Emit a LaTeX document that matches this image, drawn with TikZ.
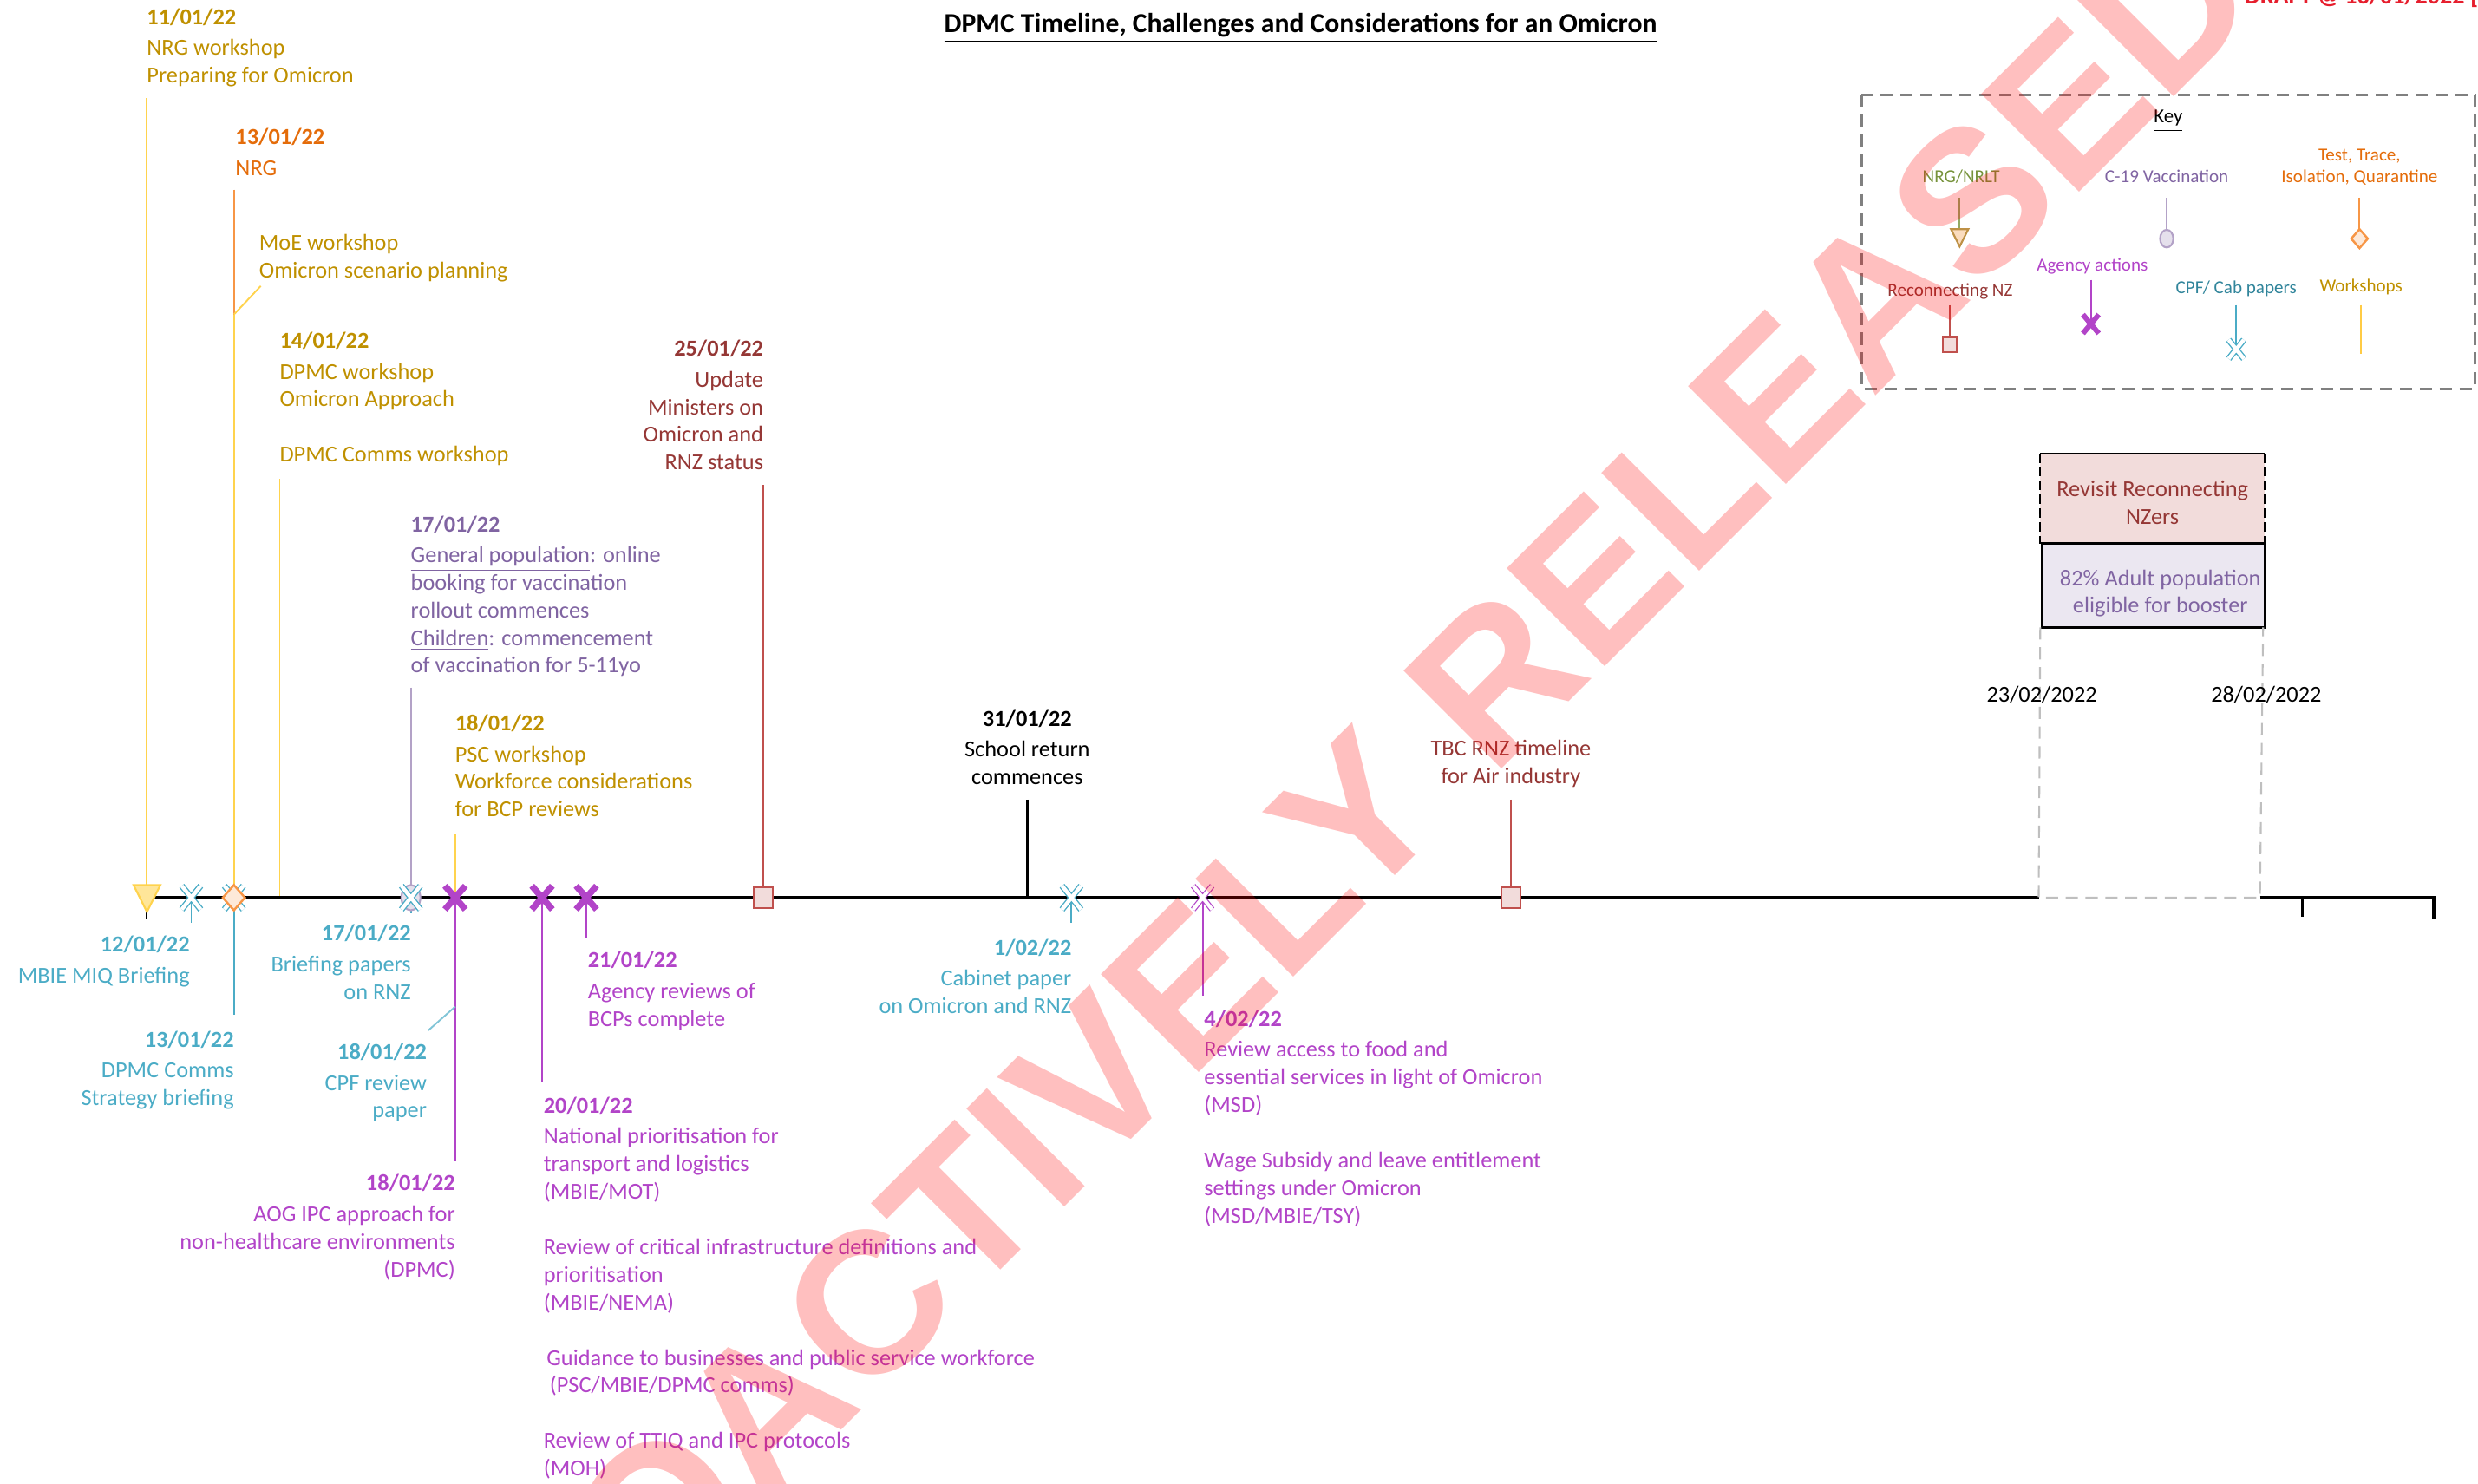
\documentclass[tikz,border=0pt]{standalone}
\usepackage{fontspec}
\setmainfont{Carlito}
\newfontfamily\wmfont{Liberation Sans}
\usetikzlibrary{calc}

\definecolor{wsText}{RGB}{191,144,0}
\definecolor{wsLine}{RGB}{255,211,77}
\definecolor{wsFill}{RGB}{255,230,153}
\definecolor{orText}{RGB}{228,108,10}
\definecolor{orLine}{RGB}{247,150,70}
\definecolor{orFill}{RGB}{253,233,217}
\definecolor{cpText}{RGB}{75,172,198}
\definecolor{cpLine}{RGB}{75,172,198}
\definecolor{cpKey}{RGB}{49,133,155}
\definecolor{vxText}{RGB}{128,100,162}
\definecolor{vxLine}{RGB}{179,162,199}
\definecolor{vxFill}{RGB}{229,224,236}
\definecolor{agText}{RGB}{178,68,200}
\definecolor{rnText}{RGB}{149,55,53}
\definecolor{rnLine}{RGB}{192,80,77}
\definecolor{rnFill}{RGB}{242,220,219}
\definecolor{lvFill}{RGB}{235,231,241}
\definecolor{nrGreen}{RGB}{119,147,60}
\definecolor{nrTri}{RGB}{190,145,70}
\definecolor{nrTriFill}{RGB}{250,220,190}
\definecolor{keyGrey}{RGB}{128,128,128}
\definecolor{boxGrey}{RGB}{191,191,191}
\definecolor{draftRed}{RGB}{230,30,45}

\newcommand\tlfont{\fontsize{7.5}{9.07}\selectfont}
\newcommand\keyfont{\fontsize{6}{7.3}\selectfont}

\tikzset{
  lbl/.style={inner sep=0pt, outer sep=0pt, font=\tlfont},
  lblL/.style={lbl, anchor=north west, align=left},
  lblR/.style={lbl, anchor=north east, align=right},
  lblC/.style={lbl, anchor=north, align=center},
  keylbl/.style={inner sep=0pt, outer sep=0pt, font=\keyfont, anchor=north, align=center},
  stem/.style={line width=0.55pt},
  wsstem/.style={stem, draw=wsLine},
  orstem/.style={stem, draw=orLine},
  cpstem/.style={stem, draw=cpLine},
  vxstem/.style={stem, draw=vxLine},
  agstem/.style={stem, draw=agText},
  rnstem/.style={stem, draw=rnLine},
  bkstem/.style={stem, draw=black},
  grnstem/.style={stem, draw=nrGreen!80},
  axisline/.style={line width=0.9pt, draw=black},
  greydash/.style={draw=boxGrey, line width=0.6pt, dash pattern=on 4pt off 2.5pt},
  cpfx/.pic={\draw[cpLine, line width=0.4pt, double=white, double distance=1.25pt] (-6,-7.5) -- (6,7.5) (-6,7.5) -- (6,-7.5);},
  agx/.pic={\draw[agText, line width=2.1pt] (-6.5,-7.5) -- (6.5,7.5) (-6.5,7.5) -- (6.5,-7.5);},
  kagx/.pic={\draw[agText, line width=1.7pt] (-5,-6) -- (5,6) (-5,6) -- (5,-6);},
  hollowx/.pic={\draw[agText, line width=0.35pt, double=white, double distance=1.2pt] (-6,-7.5) -- (6,7.5) (-6,7.5) -- (6,-7.5);},
  rnsq/.pic={\draw[rnLine, fill=rnFill, line width=0.7pt] (-6,-6.5) rectangle (6,6.5);},
  vxell/.pic={\draw[vxLine, fill=vxFill, line width=0.6pt] (0,0) ellipse [x radius=6, y radius=8];},
  ttidia/.pic={\draw[orLine, fill=orFill, line width=0.7pt] (0,-8) -- (7,0) -- (0,8) -- (-7,0) -- cycle;},
  wstri/.pic={\draw[wsLine, fill=wsFill, line width=0.6pt] (-8.5,-8) -- (8.5,-8) -- (0,9) -- cycle;},
  nrtri/.pic={\draw[nrTri, fill=nrTriFill, line width=0.6pt] (-5.5,-5) -- (5.5,-5) -- (0,6) -- cycle;},
}

\begin{document}
\begin{tikzpicture}[x=0.1822mm, y=-0.1822mm]
\useasboundingbox (0,0) rectangle (1568,939);

% ---------- title and draft mark ----------
\node[anchor=base, inner sep=0pt, font=\bfseries\fontsize{9}{10}\selectfont] (title) at (823,20.5)
  {\underline{DPMC Timeline, Challenges and Considerations for an Omicron}};
\node[anchor=base west, inner sep=0pt, text=draftRed, font=\bfseries\fontsize{8}{9}\selectfont] (draft) at (1420,2.5)
  {DRAFT @ 13/01/2022 [I};

% ---------- axis coordinates ----------
\coordinate (a0) at (93,568);
\coordinate (a1) at (1290,568);
\coordinate (a2) at (1430,568);
\coordinate (a3) at (1540,568);
\coordinate (tk1) at (1457,568);
\coordinate (tk1e) at (1457,580);
\coordinate (tk2e) at (1540,582);

% markers on the axis
\coordinate (m1) at (93,568);
\coordinate (m2) at (121,568);
\coordinate (m3) at (148,568);
\coordinate (m4) at (177,568);
\coordinate (m5) at (260,568);
\coordinate (m6) at (288,568);
\coordinate (m7) at (343,568);
\coordinate (m8) at (371,568);
\coordinate (m9) at (483,568);
\coordinate (m10) at (650,568);
\coordinate (m11) at (678,568);
\coordinate (m12) at (761,568);
\coordinate (m13) at (956,568);

% stem ends
\coordinate (s1) at (93,62);
\coordinate (s1b) at (93,572);
\coordinate (s1c) at (93,582);
\coordinate (s2) at (121,584);
\coordinate (s3a) at (148,120);
\coordinate (s3b) at (148,199);
\coordinate (s3c) at (165,181);
\coordinate (s3d) at (148,642);
\coordinate (s4) at (177,303);
\coordinate (s5a) at (260,435);
\coordinate (s5b) at (260,578);
\coordinate (s6a) at (288,528);
\coordinate (s6b) at (288,735);
\coordinate (s6c) at (288,637);
\coordinate (s6d) at (271,652);
\coordinate (s7) at (343,685);
\coordinate (s8) at (371,594);
\coordinate (s9) at (483,307);
\coordinate (s10) at (650,506);
\coordinate (s11) at (678,584);
\coordinate (s12) at (761,630);
\coordinate (s13) at (956,506);

% ---------- stems ----------
\draw[wsstem] (s1) -- (m1);
\draw[bkstem] (s1b) -- (s1c);
\draw[cpstem] (m2) -- (s2);
\draw[orstem] (s3a) -- (s3b);
\draw[wsstem] (s3b) -- (m3);
\draw[wsstem] (s3b) -- (s3c);
\draw[cpstem] (m3) -- (s3d);
\draw[wsstem] (s4) -- (m4);
\draw[vxstem] (s5a) -- (m5);
\draw[cpstem] (m5) -- (s5b);
\draw[wsstem] (s6a) -- (m6);
\draw[agstem] (m6) -- (s6b);
\draw[cpstem, draw=cpLine!70] (s6c) -- (s6d);
\draw[agstem] (m7) -- (s7);
\draw[agstem] (m8) -- (s8);
\draw[rnstem] (s9) -- (m9);
\draw[bkstem, line width=0.7pt] (s10) -- (m10);
\draw[cpstem] (m11) -- (s11);
\draw[agstem] (m12) -- (s12);
\draw[rnstem] (s13) -- (m13);

% ---------- axis ----------
\draw[axisline] (a0) -- (a1);
\draw[axisline] (a2) -- (a3) -- (tk2e);
\draw[axisline] (tk1) -- (tk1e);

% ---------- right-hand boxes ----------
\coordinate (bx1) at (1291,287);
\coordinate (bx2) at (1433,344);
\coordinate (bx3) at (1292,344);
\coordinate (bx4) at (1433,397);
\coordinate (gd1) at (1291,397);
\coordinate (gd2) at (1432,397);
\fill[rnFill] (bx1) rectangle (bx2);
\draw[black, line width=0.8pt] (bx1) -- (bx1 -| bx2);
\draw[black, line width=0.6pt, dash pattern=on 3pt off 1.5pt] (bx1) -- (bx1 |- bx2);
\draw[black, line width=0.6pt, dash pattern=on 3pt off 1.5pt] (bx1 -| bx2) -- (bx2);
\draw[black, fill=lvFill, line width=0.8pt] (bx3) rectangle (bx4);
\draw[greydash] (gd1) -- (a1) -- (a2) -- (gd2);
\node[lblC, text=rnText] (revisit) at (1362,302.2) {\strut Revisit Reconnecting\\NZers};
\node[lblC, text=vxText] (booster) at (1367,358.2) {\strut 82\% Adult population\\eligible for booster};
\node[lblC] (d23) at (1292,432.2) {\strut 23/02/2022};
\node[lblC] (d28) at (1434,432.2) {\strut 28/02/2022};

% ---------- markers ----------
\pic at (m1) {wstri};
\pic at (m2) {cpfx};
\pic at (m3) {cpfx};
\pic at (m3) {ttidia};
\pic at (m5) {vxell};
\pic at (m5) {cpfx};
\pic at (m6) {agx};
\pic at (m7) {agx};
\pic at (m8) {agx};
\pic at (m9) {rnsq};
\pic at (m11) {cpfx};
\pic at (m12) {hollowx};
\pic at (m13) {rnsq};

% ---------- labels above the axis ----------
\node[lblL, text=wsText] (t1) at (93,3.2) {\strut\textbf{11/01/22}\\[1pt]NRG workshop\\Preparing for Omicron};
\node[lblL, text=orText] (t2) at (149,79.2) {\strut\textbf{13/01/22}\\[1pt]NRG};
\node[lblL, text=wsText] (t3) at (164,146.2) {\strut MoE workshop\\Omicron scenario planning};
\node[lblL, text=wsText] (t4) at (177,208.2) {\strut\textbf{14/01/22}\\[1pt]DPMC workshop\\Omicron Approach\\ \\DPMC Comms workshop};
\node[lblL, text=vxText] (t5) at (260,324.2) {\strut\textbf{17/01/22}\\[1pt]\underline{General population}: online\\booking for vaccination\\rollout commences\\\underline{Children}: commencement\\of vaccination for 5-11yo};
\node[lblL, text=wsText] (t6) at (288,450.2) {\strut\textbf{18/01/22}\\[1pt]PSC workshop\\Workforce considerations\\for BCP reviews};
\node[lblR, text=rnText] (t7) at (483,213.2) {\strut\textbf{25/01/22}\\[1pt]Update\\Ministers on\\Omicron and\\RNZ status};
\node[lblC, text=black] (t8) at (650,447.2) {\strut\textbf{31/01/22}\\[1pt]School return\\commences};
\node[lblC, text=rnText] (t9) at (956,466.2) {\strut TBC RNZ timeline\\for Air industry};

% ---------- labels below the axis ----------
\node[lblR, text=cpText] (b1) at (120,590.2) {\strut\textbf{12/01/22}\\[1pt]MBIE MIQ Briefing};
\node[lblR, text=cpText] (b2) at (148,650.2) {\strut\textbf{13/01/22}\\[1pt]DPMC Comms\\Strategy briefing};
\node[lblR, text=cpText] (b3) at (260,583.2) {\strut\textbf{17/01/22}\\[1pt]Briefing papers\\on RNZ};
\node[lblR, text=cpText] (b4) at (270,658.2) {\strut\textbf{18/01/22}\\[1pt]CPF review\\paper};
\node[lblR, text=agText] (b5) at (288,741.2) {\strut\textbf{18/01/22}\\[1pt]AOG IPC approach for\\non-healthcare environments\\(DPMC)};
\node[lblL, text=agText] (b6) at (372,600.2) {\strut\textbf{21/01/22}\\[1pt]Agency reviews of\\BCPs complete};
\node[lblL, text=agText] (b7) at (344,692.2) {\strut\textbf{20/01/22}\\[1pt]National prioritisation for\\transport and logistics\\(MBIE/MOT)\\ \\Review of critical infrastructure definitions and\\prioritisation\\(MBIE/NEMA)\\ \\\hspace*{1pt}Guidance to businesses and public service workforce\\\hspace*{2pt}(PSC/MBIE/DPMC comms)\\ \\Review of TTIQ and IPC protocols\\(MOH)};
\node[lblR, text=cpText] (b8) at (678,592.2) {\strut\textbf{1/02/22}\\[1pt]Cabinet paper\\on Omicron and RNZ};
\node[lblL, text=agText] (b9) at (762,637.2) {\strut\textbf{4/02/22}\\[1pt]Review access to food and\\essential services in light of Omicron\\(MSD)\\ \\Wage Subsidy and leave entitlement\\settings under Omicron\\(MSD/MBIE/TSY)};

% ---------- key ----------
\coordinate (kb1) at (1178,60);
\coordinate (kb2) at (1566,246);
\draw[keyGrey, line width=0.8pt, dash pattern=on 4pt off 2.5pt] (kb1) rectangle (kb2);
\node[keylbl, font=\fontsize{6.5}{8}\selectfont] (keyt) at (1372,67) {\strut\underline{Key}};
\node[keylbl, text=nrGreen] (k1) at (1241,105.7) {\strut NRG/NRLT};
\node[keylbl, text=vxText] (k2) at (1371,105.7) {\strut C-19 Vaccination};
\node[keylbl, text=orText] (k3) at (1493,91.7) {\strut Test, Trace,\\Isolation, Quarantine};
\node[keylbl, text=agText] (k4) at (1324,161.7) {\strut Agency actions};
\node[keylbl, text=rnText] (k5) at (1234,177.7) {\strut Reconnecting NZ};
\node[keylbl, text=cpKey] (k6) at (1415,175.7) {\strut CPF/ Cab papers};
\node[keylbl, text=wsText] (k7) at (1494,174.7) {\strut Workshops};
\coordinate (k1a) at (1240,125); \coordinate (k1b) at (1240,150);
\coordinate (k2a) at (1371,125); \coordinate (k2b) at (1371,146);
\coordinate (k3a) at (1493,125); \coordinate (k3b) at (1493,146);
\coordinate (k4a) at (1323,177); \coordinate (k4b) at (1323,205);
\coordinate (k5a) at (1234,193); \coordinate (k5b) at (1234,213);
\coordinate (k6a) at (1415,193); \coordinate (k6b) at (1415,221);
\coordinate (k7a) at (1494,193); \coordinate (k7b) at (1494,224);
\draw[grnstem] (k1a) -- (k1b);
\draw[vxstem] (k2a) -- (k2b);
\draw[orstem] (k3a) -- (k3b);
\draw[agstem] (k4a) -- (k4b);
\draw[rnstem] (k5a) -- (k5b);
\draw[cpstem] (k6a) -- (k6b);
\draw[wsstem, draw=wsLine!90!orange] (k7a) -- (k7b);
\pic at (k1b) {nrtri};
\pic[scale=0.7] at ($(k2b)+(0,5)$) {vxell};
\pic[scale=0.75] at ($(k3b)+(0,5)$) {ttidia};
\pic at (k4b) {kagx};
\pic[scale=0.75] at ($(k5b)+(0,5)$) {rnsq};
\pic[scale=0.8] at (k6b) {cpfx};

% ---------- watermark ----------
\node[rotate=45, inner sep=0pt, text=red, text opacity=0.25, font=\wmfont\bfseries\fontsize{66}{66}\selectfont] (wm) at (830,545) {PROACTIVELY RELEASED};
\end{tikzpicture}
\end{document}
